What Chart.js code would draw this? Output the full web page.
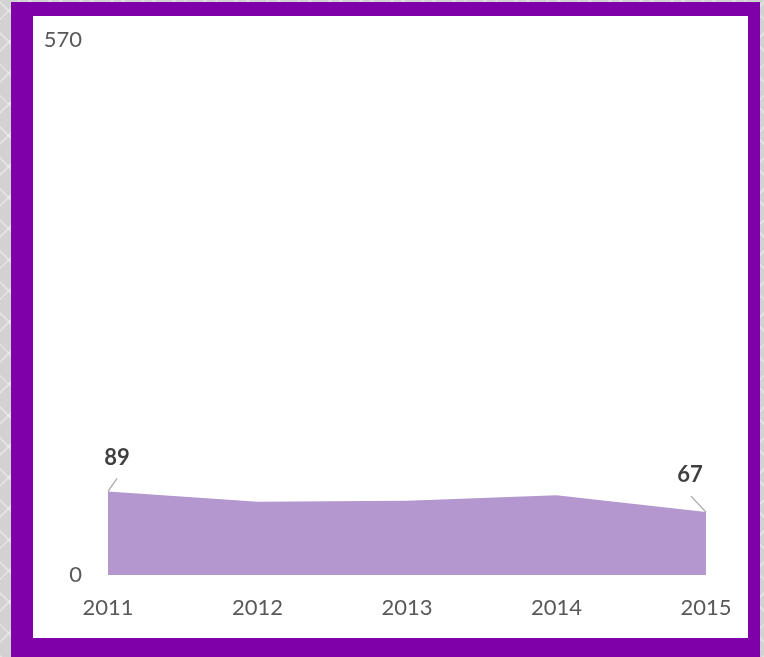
<!DOCTYPE html>
<html>
<head>
<meta charset="utf-8">
<script src="https://cdn.jsdelivr.net/npm/chart.js@4"></script>
<style>
  html, body { margin: 0; padding: 0; }
  body {
    width: 764px; height: 657px; overflow: hidden; position: relative;
    background-color: #d2d2d2;
    background-image:
      repeating-linear-gradient(45deg, rgba(255,255,255,0.35) 0 2px, transparent 2px 22px),
      repeating-linear-gradient(-45deg, rgba(255,255,255,0.35) 0 2px, transparent 2px 22px);
  }
  #frame {
    position: absolute; left: 11px; top: 2px; width: 715px; height: 622px;
    border-style: solid; border-color: #7f00a8;
    border-width: 14px 12px 19px 22px;
    background: #fff;
  }
  #chart { display: block; }
</style>
</head>
<body>
<div id="frame"><canvas id="chart" width="715" height="622"></canvas></div>
<script>
  const years = ['2011', '2012', '2013', '2014', '2015']
  const values = [89, 78, 79, 85, 67]
  const yTicks = [0, 570]
  // which points get a value label, with the leader line offsets
  const labelled = [0, 4]

  const textGray = '#595959'
  const fontFamily = 'Lato, "Open Sans", sans-serif'

  const callouts = {
    id: 'callouts',
    afterDatasetsDraw(chart) {
      const ctx = chart.ctx
      const meta = chart.getDatasetMeta(0)
      const offsets = { 0: [9, -13, 9, -34], 4: [-15, -16, -16, -37] }
      ctx.save()
      labelled.forEach(i => {
        const p = meta.data[i]
        const o = offsets[i]
        ctx.strokeStyle = '#a6a6a6'
        ctx.lineWidth = 1.2
        ctx.beginPath()
        ctx.moveTo(p.x, p.y)
        ctx.lineTo(p.x + o[0], p.y + o[1])
        ctx.stroke()
        ctx.fillStyle = '#404040'
        ctx.font = 'bold 22px ' + fontFamily
        ctx.textAlign = 'center'
        ctx.textBaseline = 'middle'
        ctx.fillText(String(values[i]), p.x + o[2], p.y + o[3])
      })
      ctx.restore()
    }
  }

  const ctx = document.getElementById('chart').getContext('2d')
  new Chart(ctx, {
    type: 'line',
    data: {
      labels: years,
      datasets: [{
        data: values,
        fill: 'origin',
        backgroundColor: '#b497cf',
        borderWidth: 0,
        pointRadius: 0,
        tension: 0
      }]
    },
    options: {
      responsive: false,
      animation: false,
      layout: { padding: { top: 24, right: 42, left: 0, bottom: 0 } },
      plugins: { legend: { display: false }, tooltip: { enabled: false } },
      scales: {
        x: {
          offset: false,
          grid: { display: false, drawTicks: false },
          border: { display: false },
          ticks: { color: textGray, font: { family: fontFamily, size: 22 }, padding: 20, maxRotation: 0 },
          afterFit(scale) {
            scale.height = 63
            scale.paddingLeft = 0
            scale.paddingRight = 0
          }
        },
        y: {
          min: 0,
          max: 570,
          grid: { display: false, drawTicks: false },
          border: { display: false },
          ticks: { color: textGray, font: { family: fontFamily, size: 22 }, padding: 26 },
          afterBuildTicks(scale) { scale.ticks = yTicks.map(v => ({ value: v })) },
          afterFit(scale) {
            scale.width = 75
            scale.paddingTop = 0
            scale.paddingBottom = 0
          }
        }
      }
    },
    plugins: [callouts]
  })
</script>
</body>
</html>
